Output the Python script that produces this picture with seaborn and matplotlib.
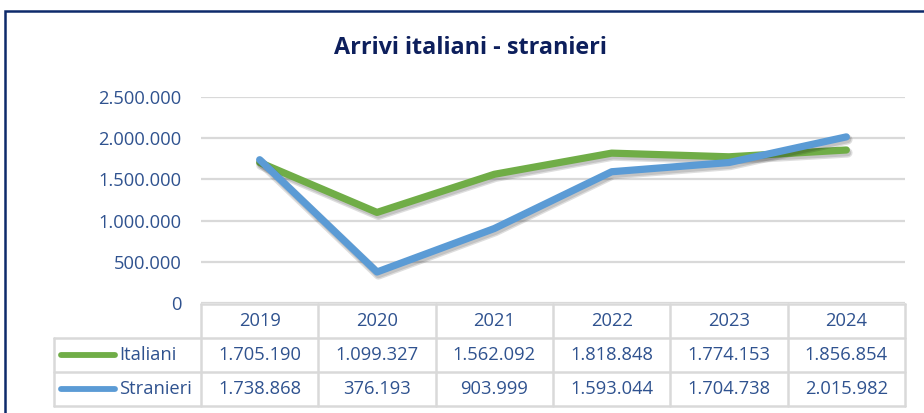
import matplotlib
matplotlib.use("Agg")
import matplotlib.pyplot as plt
import matplotlib.patheffects as pe
from matplotlib.patches import Rectangle
import seaborn as sns
import pandas as pd

years = ["2019", "2020", "2021", "2022", "2023", "2024"]
italiani = [1705190, 1099327, 1562092, 1818848, 1774153, 1856854]
stranieri = [1738868, 376193, 903999, 1593044, 1704738, 2015982]
series_names = ["Italiani", "Stranieri"]
title = "Arrivi italiani - stranieri"

colors = {"Italiani": "#70AD47", "Stranieri": "#5B9BD5"}
text_col = "#2F528F"
grid_col = "#D9D9D9"

def fmt(v):
    return f"{v:,}".replace(",", ".")

df = pd.DataFrame({
    "pos": list(range(len(years))) * 2,
    "Anno": years * 2,
    "valore": italiani + stranieri,
    "serie": ["Italiani"] * len(years) + ["Stranieri"] * len(years),
})

sns.set_theme(style="white")
plt.rcParams["font.family"] = ["Open Sans", "DejaVu Sans"]

W, H = 924, 413
fig = plt.figure(figsize=(W / 100, H / 100), dpi=100)
fig.patch.set_facecolor("white")

def fx(px):
    return px / W

def fy(py):
    return 1 - py / H

FS = 13.2
L, R, T, B = 201, 905, 97, 303
ax = fig.add_axes([fx(L), fy(B), fx(R) - fx(L), fy(T) - fy(B)])

shadow = [pe.SimpleLineShadow(offset=(1.0, -2.0), shadow_color="black", alpha=0.13, linewidth=7),
          pe.SimpleLineShadow(offset=(1.0, -2.0), shadow_color="black", alpha=0.12, linewidth=5),
          pe.Normal()]
sns.lineplot(data=df, x="pos", y="valore", hue="serie", palette=colors, ax=ax,
             linewidth=5.2, legend=False, sort=False)
for ln in ax.get_lines():
    ln.set_solid_capstyle("round")
    ln.set_solid_joinstyle("round")
    ln.set_path_effects(shadow)
lines = ax.get_lines()
if len(lines) == 2:
    lines[1].set_zorder(3)
    lines[0].set_zorder(2.5)

ax.set_xlim(-0.5, len(years) - 0.5)
ax.set_ylim(0, 2500000)
ticks = [0, 500000, 1000000, 1500000, 2000000, 2500000]
ax.set_yticks(ticks)
ax.set_yticklabels([fmt(v) for v in ticks], color=text_col, fontsize=FS)
ax.tick_params(axis="y", length=0, pad=14)
ax.set_xticks([])
ax.set_xlabel("")
ax.set_ylabel("")
ax.grid(axis="y", color=grid_col, linewidth=1.6)
ax.set_axisbelow(True)
for s in ax.spines.values():
    s.set_visible(False)

# title
fig.text(fx(470), fy(48), title, ha="center", va="center", fontsize=16.8,
         fontweight="bold", color="#0D1F5C")

# data table
col_w = (R - L) / len(years)
row_tops = [304, 338, 372, 406]
tl = dict(color=grid_col, linewidth=1.8, transform=fig.transFigure, clip_on=False)
fig.add_artist(plt.Line2D([fx(L), fx(R)], [fy(row_tops[0]), fy(row_tops[0])], **tl))
for yy in row_tops[1:]:
    fig.add_artist(plt.Line2D([fx(54), fx(R)], [fy(yy), fy(yy)], **tl))
fig.add_artist(plt.Line2D([fx(54), fx(54)], [fy(row_tops[1]), fy(row_tops[3])], **tl))
for k in range(len(years) + 1):
    xx = L + k * col_w
    fig.add_artist(plt.Line2D([fx(xx), fx(xx)], [fy(row_tops[0]), fy(row_tops[3])], **tl))

for k, yr in enumerate(years):
    cx = L + (k + 0.5) * col_w
    fig.text(fx(cx), fy(321), yr, ha="center", va="center", fontsize=FS, color=text_col)
    fig.text(fx(cx), fy(355), fmt(italiani[k]), ha="center", va="center", fontsize=FS, color=text_col)
    fig.text(fx(cx), fy(389), fmt(stranieri[k]), ha="center", va="center", fontsize=FS, color=text_col)

for name, yy in zip(series_names, [355, 389]):
    fig.add_artist(plt.Line2D([fx(61), fx(115)], [fy(yy), fy(yy)], color=colors[name],
                              linewidth=4.2, solid_capstyle="round", transform=fig.transFigure))
    fig.text(fx(119), fy(yy), name, ha="left", va="center", fontsize=FS, color=text_col)

# outer border (cropped on right and bottom)
fig.add_artist(Rectangle((fx(5), fy(H + 20)), 1.2, fy(11) - fy(H + 20), fill=False,
                         edgecolor="#0D2A6B", linewidth=1.8, transform=fig.transFigure,
                         clip_on=False))

fig.savefig("out.png", dpi=100)
